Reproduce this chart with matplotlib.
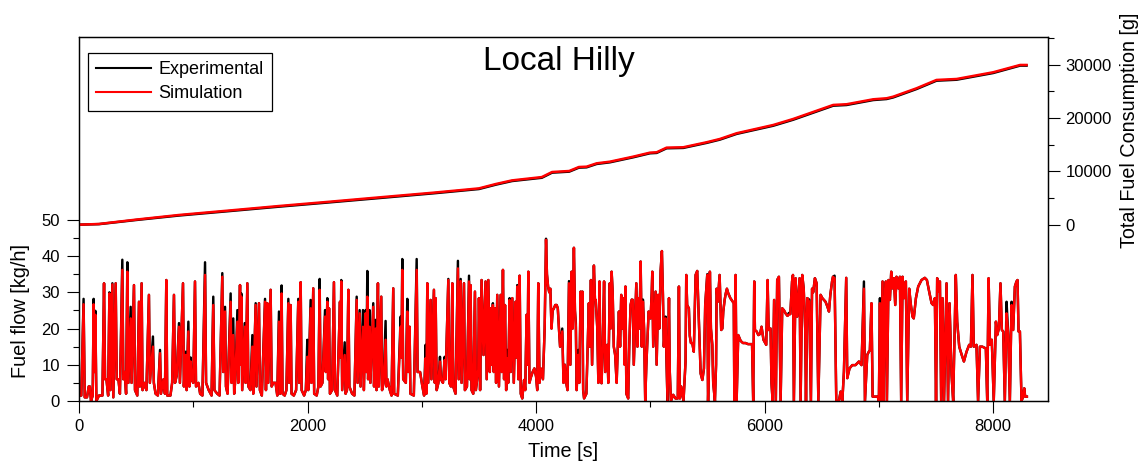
import numpy as np
import matplotlib
matplotlib.use('Agg')
import matplotlib.pyplot as plt
from matplotlib.ticker import FixedLocator, MultipleLocator

plt.rcParams['font.family'] = ['Liberation Sans', 'DejaVu Sans']

# ---- fuel flow [kg/h] vs time [s] ----
flow_time = [
    0, 20, 40, 50, 70, 85, 95, 105, 120, 128,
    135, 143, 152, 175, 205, 219, 228, 240, 255, 266,
    275, 292, 300, 321, 330, 345, 358, 379, 388, 400,
    412, 423, 432, 452, 460, 481, 490, 510, 525, 533,
    548, 556, 575, 590, 612, 620, 647, 655, 670, 690,
    709, 717, 740, 752, 764, 772, 800, 815, 831, 840,
    855, 875, 883, 910, 918, 933, 942, 957, 966, 977,
    985, 1000, 1015, 1024, 1045, 1060, 1080, 1103, 1112, 1135,
    1160, 1175, 1185, 1210, 1230, 1254, 1262, 1278, 1286, 1300,
    1327, 1335, 1350, 1358, 1368, 1386, 1394, 1409, 1414, 1420,
    1428, 1450, 1458, 1473, 1482, 1500, 1517, 1525, 1546, 1553,
    1575, 1583, 1600, 1628, 1636, 1648, 1656, 1677, 1686, 1700,
    1720, 1735,
    1750, 1760, 1773, 1781, 1800, 1815, 1832, 1840, 1852, 1860,
    1880, 1900, 1919, 1927, 1940, 1948, 1970, 1985, 1998, 2006,
    2027, 2034, 2050, 2058, 2080, 2095, 2106, 2114, 2130, 2153,
    2160, 2173, 2180, 2188, 2196, 2215, 2231, 2240, 2260, 2284,
    2290, 2295, 2303, 2325, 2333, 2345, 2357, 2366, 2390, 2410,
    2430, 2438, 2456, 2464, 2485, 2493, 2508, 2515, 2523, 2530,
    2543, 2550, 2575, 2582, 2596, 2604, 2616, 2624, 2645, 2652,
    2665, 2683, 2690, 2700, 2720, 2735, 2750, 2758, 2790, 2815,
    2822, 2829, 2837, 2860, 2873, 2880, 2893, 2900, 2930, 2955,
    2963, 2985, 3005, 3020, 3033, 3040, 3048, 3056, 3077, 3084,
    3106, 3114, 3121, 3130, 3145, 3159, 3167, 3185, 3200, 3208,
    3232, 3240, 3255, 3267, 3275, 3295, 3316, 3323, 3340, 3348,
    3369, 3377, 3395, 3413, 3420, 3427, 3435, 3450, 3465, 3473,
    3494,
    3500, 3510, 3523, 3540, 3558, 3568, 3582, 3595, 3602, 3612,
    3622, 3630, 3640, 3650, 3660, 3675, 3690, 3700, 3710, 3720,
    3728, 3738, 3748, 3756, 3768, 3778, 3792, 3805, 3821, 3828,
    3835, 3845, 3856, 3866, 3879, 3895, 3905, 3917, 3925, 3932,
    3942, 3952, 3970, 3985, 4000, 4010, 4019, 4030, 4040, 4060,
    4075, 4087, 4095, 4105, 4115, 4125, 4135, 4145, 4156, 4168,
    4180, 4190, 4200, 4210, 4229, 4240, 4252, 4262, 4275, 4288,
    4300, 4311, 4320, 4331, 4340, 4348, 4355, 4369, 4378, 4390,
    4398, 4405, 4412, 4420, 4440, 4462, 4470, 4480, 4490, 4506,
    4515, 4522, 4535, 4545, 4555, 4563, 4573, 4583, 4595, 4605,
    4623, 4632, 4645, 4652, 4661, 4670, 4680, 4692, 4705, 4725,
    4735, 4745, 4755, 4765, 4775, 4782, 4790, 4806, 4815, 4827,
    4837, 4847, 4855, 4877, 4887, 4895, 4905, 4915, 4925, 4935,
    4945, 4955, 4965, 4985, 5002, 5012, 5017, 5025, 5046, 5055,
    5068, 5078, 5090, 5101, 5110, 5118, 5133, 5142, 5150, 5163,
    5170, 5180, 5200, 5220, 5240,
    5250, 5258, 5270, 5290, 5308, 5314, 5322, 5337, 5345, 5355,
    5367, 5380, 5396, 5410, 5420, 5440, 5455, 5469, 5480, 5498,
    5505, 5512, 5521, 5530, 5542, 5550, 5565, 5575, 5580, 5590,
    5606, 5620, 5630, 5638, 5650, 5660, 5670, 5682, 5700, 5722,
    5730, 5735, 5746, 5755, 5769, 5790, 5810, 5833, 5855, 5877,
    5890, 5900, 5909, 5915, 5930, 5945, 5960, 5973, 5990, 6005,
    6014, 6026, 6035, 6052, 6060, 6070, 6083, 6098, 6110, 6125,
    6135, 6140, 6154, 6170, 6183, 6200, 6212, 6225, 6240, 6248,
    6256, 6271, 6285, 6306, 6315, 6329, 6342, 6355, 6362, 6373,
    6390, 6400, 6405, 6415, 6425, 6440, 6455, 6465, 6470, 6490,
    6505, 6533, 6550, 6563, 6575, 6590, 6598, 6612, 6620, 6627,
    6650, 6665, 6680, 6694, 6714, 6723, 6743, 6767, 6795, 6825,
    6848, 6869, 6878, 6898, 6912, 6921, 6935, 6945,
    6960, 6990, 7000, 7009, 7018, 7032, 7040, 7052, 7061, 7070,
    7084, 7096, 7108, 7120, 7131, 7143, 7154, 7170, 7184, 7195,
    7207, 7220, 7236, 7248, 7265, 7280, 7294, 7305, 7324, 7344,
    7373, 7402, 7420, 7440, 7461, 7475, 7490, 7500, 7510, 7520,
    7534, 7545, 7557, 7570, 7592, 7605, 7618, 7636, 7650, 7673,
    7685, 7703, 7725, 7744, 7767, 7790, 7805, 7819, 7830, 7854,
    7868, 7884, 7905, 7936, 7948, 7960, 7972, 7988, 8005, 8024,
    8035, 8050, 8064, 8076, 8088, 8102, 8117, 8132, 8146, 8161,
    8175, 8190, 8204, 8213, 8222, 8234, 8248, 8262, 8272, 8280,
    8295,
]

flow_sim = [
    1.5, 1.5, 26.7, 1, 1, 4, 4, 0, 1.5, 26.7,
    8, 23.8, 0, 1.5, 1.5, 32.5, 6, 6, 1.5, 29.7,
    3, 32.2, 1, 32.5, 6, 6, 2, 36.2, 6, 8,
    2, 35.7, 5, 22.8, 5, 32, 3, 1.5, 27.4, 4,
    32.5, 3, 5, 3, 29.3, 5, 15, 5, 2, 1.5,
    13.2, 2, 6, 2, 33.4, 1.5, 1.5, 5, 29.3, 5,
    7, 20.5, 5, 32.5, 4, 12.7, 3, 19.2, 4, 10.9,
    6, 5, 33, 4, 5, 2, 1.5, 34.8, 5, 3,
    1.5, 26.5, 3, 2, 1.5, 34.3, 8, 24.7, 4, 2,
    27.4, 5, 18.2, 2, 6, 21.9, 5, 32, 10, 28.8,
    3, 20.5, 5, 32.5, 4, 3, 15, 2, 26.5, 4,
    27, 3, 1.5, 27.4, 3, 27, 5, 30.7, 4, 5,
    5, 1.5,
    21.9, 2, 29.7, 2, 1.5, 3, 27, 5, 26.5, 2,
    1.5, 3, 27.4, 5, 32.8, 3, 1.5, 3, 12.2, 3,
    25.6, 5, 31.1, 2, 1.5, 4, 30.7, 4, 5, 23.3,
    8, 27.4, 6, 25.6, 2, 3, 32.8, 3, 1.5, 27.4,
    12, 33, 3, 12.7, 2, 3, 30.7, 4, 2, 1.5,
    27.9, 5, 24.2, 4, 20.5, 3, 24.2, 8, 28.8, 6,
    20.5, 5, 26, 4, 20, 3, 32.5, 4, 28.8, 3,
    5, 16.9, 4, 6, 3, 1.5, 31.1, 2, 1.5, 20.5,
    12, 36.2, 6, 5, 24.7, 8, 20.5, 2, 1.5, 36.2,
    8, 8, 4, 1.5, 11.8, 2, 32.5, 5, 27.9, 6,
    30.7, 5, 28.4, 3, 5, 10.9, 6, 5, 11.3, 6,
    33.4, 5, 4, 32.5, 4, 2, 36.6, 6, 33.1, 5,
    32.5, 3, 4, 33, 6, 32, 3, 2, 30.2, 3,
    8.6,
    28.4, 3, 33.4, 12.7, 33, 6, 33.4, 8, 25.6, 10,
    26.5, 8, 25.6, 5, 29.3, 4, 29.3, 8, 36.2, 6,
    26.5, 3, 11.8, 5, 27.9, 8, 28.4, 5, 27.4, 12,
    31.6, 6, 34.6, 2, 0.7, 5.8, 3, 23.8, 10, 35.7,
    5, 6.3, 8, 9, 6.7, 3, 32.5, 5, 9, 6,
    20, 44.5, 35, 31.6, 30, 31, 20, 25, 25.6, 26.5,
    26.5, 25.6, 20, 15, 19.2, 5, 10, 5.3, 3, 32.5,
    10, 35.7, 20, 42.3, 25, 20.5, 3, 12.7, 5, 30.2,
    20, 30.2, 3, 0.7, 2, 27, 15, 33.4, 10, 37.4,
    28, 27.9, 20.5, 5, 33, 10, 4.9, 15, 33, 8,
    15.5, 5, 32.5, 20, 35.7, 30.2, 15, 12.7, 5, 24.7,
    15, 29.3, 20, 28.4, 10, 31.6, 2, 0.7, 15, 26.5,
    28, 27.9, 10, 32.5, 15, 28.4, 20, 38.5, 15, 27.4,
    20, 0, 10, 24.7, 22.8, 30, 35.7, 15, 30.2, 10,
    29.3, 20, 36, 41.4, 29.3, 15, 22.8, 10, 0, 28.4,
    8, 0, 1.7, 0.7, 0.7,
    31.6, 0.7, 4, 0, 10.9, 34.8, 26.5, 25.6, 18, 16,
    16, 13.6, 34.8, 35.9, 26.5, 7.6, 5.8, 9, 26.5, 34.8,
    0, 10, 35.7, 20, 15.5, 5, 0, 10, 31, 27.4,
    34.8, 19.6, 20, 24.7, 27.9, 29.7, 31, 29.7, 28.4, 27.4,
    27, 0, 34.8, 0, 18.2, 16.6, 16, 16, 15.7, 15.7,
    15.7, 0, 33, 19.6, 19.2, 18.2, 18.5, 20.5, 16.9, 16,
    15.5, 33.4, 19.6, 20, 5, 0, 27.9, 0, 33.4, 34.3,
    10, 0, 25.6, 25, 24.2, 23.5, 23.8, 24, 33, 34.8,
    0, 33.9, 23.3, 33.9, 0, 34.8, 31, 20, 0, 28.4,
    27.4, 10, 0, 31, 30, 33.9, 32.5, 10, 0, 29.3,
    28.4, 27.4, 26, 24.7, 29.3, 33, 34.3, 33.9, 15, 0,
    0, 2.6, 0, 8.1, 34, 6.3, 9, 9.9, 9.9, 10.9,
    9.9, 31, 0, 12.7, 13.6, 14, 27, 1.2,
    1.2, 1.2, 0, 27, 0, 33, 0, 27.4, 33, 0,
    33.4, 27.9, 35.7, 31.1, 33.9, 26.5, 34.3, 31.1, 34.3, 0,
    34.3, 28.4, 33, 0, 31, 26.5, 23.3, 22.8, 28.4, 31.6,
    33.4, 34, 33.4, 30.2, 27, 26.5, 28.4, 0, 33.9, 30.2,
    33, 0, 28.4, 0, 32.5, 0, 27, 7.2, 0, 34.8,
    21.9, 15, 12.7, 10.9, 13.6, 15.5, 15, 34.8, 15, 15.5,
    0, 15, 15, 14.5, 0, 33.9, 15.5, 16.9, 0, 21.9,
    18.2, 20, 32.5, 19.6, 19.2, 0, 24.2, 18.2, 0, 26.5,
    19.6, 31.6, 33, 33.4, 19.2, 19.2, 0, 1.2, 3.5, 1.2,
    1.2,
]

flow_exp = [
    1.5, 1.5, 28.2, 1, 1, 4, 4, 0, 1.5, 28.2,
    8, 24.9, 0, 1.5, 1.5, 32.5, 6, 6, 1.5, 30,
    3, 32.5, 1, 32.5, 6, 6, 2, 39, 6, 8,
    2, 38.3, 5, 26, 5, 32, 3, 1.5, 27.4, 4,
    32.5, 3, 5, 3, 29.3, 5, 17.8, 5, 2, 1.5,
    14.1, 2, 6, 2, 33.4, 1.5, 1.5, 5, 29.3, 5,
    7, 21.5, 5, 32.5, 4, 13.6, 3, 21.9, 4, 12,
    6, 5, 33, 4, 5, 2, 1.5, 38.3, 5, 3,
    1.5, 28.8, 3, 2, 1.5, 35.3, 8, 26, 4, 2,
    29.7, 5, 22.8, 2, 6, 25.1, 5, 32, 10, 29.7,
    3, 21.5, 5, 32.5, 4, 3, 18.2, 2, 27, 4,
    27, 3, 1.5, 28.2, 3, 27, 5, 30.7, 4, 5,
    5, 1.5,
    24.7, 2, 31.9, 2, 1.5, 3, 28.2, 5, 26.5, 2,
    1.5, 3, 28.2, 5, 32.8, 3, 1.5, 3, 16.9, 3,
    27.9, 5, 31.1, 2, 1.5, 4, 33.7, 4, 5, 25.1,
    8, 28.4, 6, 25.6, 2, 3, 32.8, 3, 1.5, 27.4,
    12, 33.4, 3, 16.2, 2, 3, 30.7, 4, 2, 1.5,
    28.8, 5, 25.1, 4, 25.1, 3, 25.1, 8, 35.9, 6,
    25.1, 5, 27, 4, 22.4, 3, 32.5, 4, 28.8, 3,
    5, 22.1, 4, 6, 3, 1.5, 31.1, 2, 1.5, 23.3,
    12, 39.2, 6, 5, 28.2, 8, 20.5, 2, 1.5, 39.2,
    8, 8, 4, 1.5, 15.5, 2, 32.5, 5, 27.9, 6,
    30.7, 5, 28.4, 3, 5, 12.2, 6, 5, 12.2, 6,
    33.7, 5, 4, 32.5, 4, 2, 38.7, 6, 33.7, 5,
    32.5, 3, 4, 34.6, 6, 32, 3, 2, 30.2, 3,
    8.6,
    28.4, 3, 33.4, 12.7, 33, 6, 33.4, 8, 25.6, 10,
    27, 8, 25.6, 5, 29.3, 4, 29.3, 8, 36.2, 6,
    26.5, 3, 14.1, 5, 28.4, 8, 28.4, 5, 27.4, 12,
    32, 6, 34.6, 2, 0.7, 5.8, 3, 23.8, 10, 35.7,
    5, 6.3, 8, 9, 6.7, 3, 32.5, 5, 9, 6,
    20, 44.8, 35, 31.6, 30, 31, 20, 25, 25.6, 26.5,
    26.5, 25.6, 20, 15, 20, 5, 10, 5.3, 3, 33.1,
    10, 35.7, 20, 42.3, 25, 21.5, 3, 14.1, 5, 30.2,
    20, 30.2, 3, 0.7, 2, 27, 15, 33.4, 10, 37.4,
    28, 27.9, 20.5, 5, 33, 10, 4.9, 15, 33, 8,
    15.5, 5, 32.5, 20, 35.7, 30.2, 15, 12.7, 5, 24.7,
    15, 29.3, 20, 28.4, 10, 31.6, 2, 0.7, 15, 26.5,
    28, 27.9, 10, 32.5, 15, 28.4, 20, 38.5, 15, 28,
    20, 0, 10, 24.7, 22.8, 30, 35.7, 15, 30.2, 10,
    29.3, 20, 36, 41.4, 29.3, 15, 23.3, 10, 0, 28.4,
    8, 0, 1.7, 0.7, 0.7,
    31.6, 0.7, 4, 0, 10.9, 34.8, 26.5, 25.6, 18, 16,
    16, 13.6, 34.8, 35.9, 26.5, 7.6, 5.8, 9, 26.5, 35,
    0, 10, 35.7, 20, 15.5, 5, 0, 10, 31, 27.4,
    34.8, 19.6, 20, 24.7, 27.9, 29.7, 31, 29.7, 28.4, 27.4,
    27, 0, 34.8, 0, 18.2, 16.6, 16, 16, 15.7, 15.7,
    15.7, 0, 33, 19.6, 19.2, 18.2, 18.5, 20.5, 16.9, 16,
    15.5, 33.4, 19.6, 20, 5, 0, 27.9, 0, 33.4, 34.3,
    10, 0, 25.6, 25, 24.2, 23.5, 24.3, 24, 33, 34.8,
    0, 33.9, 23.3, 33.9, 0, 34.8, 31, 20, 0, 28.4,
    28, 10, 0, 31, 30, 33.9, 32.5, 10, 0, 29.3,
    28.4, 27.4, 26, 24.7, 29.3, 33, 34.3, 34.6, 15, 0,
    0, 2.6, 0, 8.1, 34, 6.3, 9, 9.9, 9.9, 10.9,
    9.9, 33, 0, 12.7, 13.6, 14, 27, 1.2,
    1.2, 1.2, 0, 28.4, 0, 33, 0, 27.4, 33, 0,
    33.4, 27.9, 35.7, 31.1, 33.9, 26.5, 34.3, 31.1, 34.3, 0,
    34.3, 28.4, 33, 0, 31, 26.5, 23.3, 22.8, 28.4, 31.6,
    33.4, 34, 33.4, 30.2, 27, 26.5, 28.4, 0, 33.9, 30.2,
    33, 0, 28.4, 0, 32.5, 0, 27, 7.2, 0, 34.8,
    21.9, 15, 12.7, 10.9, 13.6, 15.5, 15, 34.8, 15, 15.5,
    0, 15, 15, 14.5, 0, 33.9, 15.5, 16.9, 0, 21.9,
    18.2, 20, 32.5, 19.6, 19.2, 0, 27.4, 18.2, 0, 27.4,
    19.6, 31.6, 33, 33.4, 19.2, 19.2, 0, 1.2, 3.5, 1.2,
    1.2,
]

# ---- total fuel consumption [g] ----
cum_time = [0, 175, 500, 875, 1300, 1750, 2200, 2625, 3100, 3500,
            3650, 3790, 4050, 4140, 4290, 4375, 4442, 4530, 4646, 4850,
            4996, 5055, 5142, 5288, 5492, 5609, 5755, 6075, 6250, 6600,
            6717, 6950, 7067, 7125, 7330, 7504, 7680, 8000, 8236, 8292]
cum_sim = [0, 130, 950, 1820, 2630, 3500, 4320, 5120, 6000, 6810,
           7640, 8310, 8930, 9880, 10070, 10820, 10880, 11510, 11820, 12760,
           13510, 13580, 14450, 14520, 15460, 16080, 17150, 18700, 19830, 22460,
           22590, 23520, 23710, 24010, 25590, 27150, 27330, 28590, 29960, 29960]
cum_exp = [0, 100, 880, 1720, 2520, 3380, 4200, 4990, 5880, 6690,
           7520, 8190, 8800, 9760, 9950, 10700, 10760, 11390, 11700, 12640,
           13390, 13460, 14330, 14400, 15340, 15960, 17030, 18560, 19690, 22320,
           22450, 23380, 23570, 23870, 25450, 27010, 27190, 28450, 29840, 29840]

flow_ticks = [0, 10, 20, 30, 40, 50]
flow_minor = [5, 15, 25, 35, 45]
cum_ticks = [0, 10000, 20000, 30000]
cum_minor = [5000, 15000, 25000, 35000]

fig = plt.figure(figsize=(11.45, 4.61), dpi=100)
ax = fig.add_axes([0.069, 0.1302, 0.8463, 0.7895])

ax.plot(flow_time, flow_exp, color='black', lw=1.75, label='Experimental')
ax.plot(flow_time, flow_sim, color='#ff0000', lw=1.75, label='Simulation')
ax.set_xlim(0, 8480)
ax.set_ylim(0, 100.5)
ax.xaxis.set_major_locator(MultipleLocator(2000))
ax.xaxis.set_minor_locator(MultipleLocator(1000))
ax.yaxis.set_major_locator(FixedLocator(flow_ticks))
ax.yaxis.set_minor_locator(FixedLocator(flow_minor))
ax.tick_params(which='major', direction='out', length=8.6, width=0.8,
               labelsize=12, top=False, right=False)
ax.tick_params(which='minor', direction='out', length=4.5, width=0.8,
               top=False, right=False)
ax.tick_params(axis='y', which='major', pad=5)
ax.tick_params(axis='x', which='major', pad=4.5)
ax.set_ylabel('Fuel flow [kg/h]', fontsize=14.3)
ax.yaxis.set_label_coords(-0.0506, 0.247)
ax.set_xlabel('Time [s]', fontsize=14.3)
ax.xaxis.set_label_coords(0.5, -0.113)

ax2 = ax.twinx()
ax2.plot(cum_time, cum_exp, color='black', lw=1.8, label='Experimental')
ax2.plot(cum_time, cum_sim, color='#ff0000', lw=1.8, label='Simulation')
ax2.set_ylim(-33070, 35200)
ax2.yaxis.set_major_locator(FixedLocator(cum_ticks))
ax2.yaxis.set_minor_locator(FixedLocator(cum_minor))
ax2.tick_params(which='major', direction='out', length=8.6, width=0.8,
                labelsize=12, pad=4)
ax2.tick_params(which='minor', direction='out', length=4.5, width=0.8)
ax2.set_ylabel('Total Fuel Consumption [g]', fontsize=14.2)
ax2.yaxis.set_label_coords(1.074, 0.745)

for a in (ax, ax2):
    for sp in a.spines.values():
        sp.set_linewidth(0.9)
        sp.set_color('black')

ax2.text(0.495, 0.909, 'Local Hilly', transform=ax2.transAxes,
         ha='center', va='baseline', fontsize=24)

leg = ax2.legend(loc='upper left', bbox_to_anchor=(0.0093, 0.956),
                 borderaxespad=0, fontsize=13, handlelength=3.05,
                 handletextpad=0.4, labelspacing=0.4, borderpad=0.45,
                 fancybox=False, framealpha=1, edgecolor='black')
leg.get_frame().set_linewidth(0.9)
for line in leg.get_lines():
    line.set_linewidth(1.5)

fig.savefig('out.png', dpi=100)
